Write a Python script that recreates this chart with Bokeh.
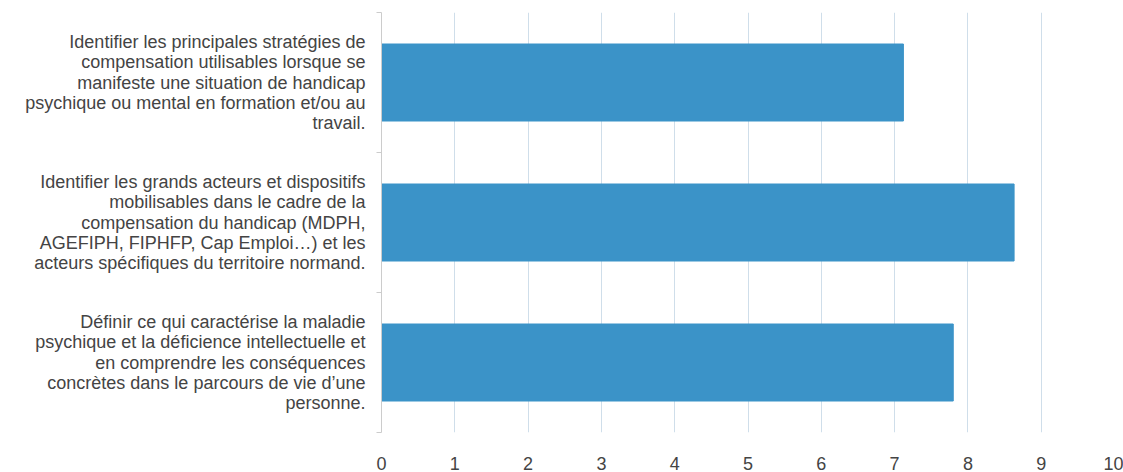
from bokeh.plotting import figure
from bokeh.models import Range1d, FixedTicker, ColumnDataSource
from bokeh.embed import file_html
from bokeh.resources import INLINE

categories = [
    "Identifier les principales stratégies de\ncompensation utilisables lorsque se\nmanifeste une situation de handicap\npsychique ou mental en formation et/ou au\ntravail.",
    "Identifier les grands acteurs et dispositifs\nmobilisables dans le cadre de la\ncompensation du handicap (MDPH,\nAGEFIPH, FIPHFP, Cap Emploi…) et les\nacteurs spécifiques du territoire normand.",
    "Définir ce qui caractérise la maladie\npsychique et la déficience intellectuelle et\nen comprendre les conséquences\nconcrètes dans le parcours de vie d’une\npersonne.",
]
values = [7.12, 8.63, 7.8]
x_ticks = list(range(0, 11))

n = len(categories)
ypos = [n - i - 0.5 for i in range(n)]
src = ColumnDataSource(dict(y=ypos, v=values))

p = figure(width=1123, height=472, output_backend="svg", toolbar_location=None,
           x_range=Range1d(0, 10), y_range=Range1d(0, n),
           min_border_left=381, min_border_right=9, min_border_top=12, min_border_bottom=32)
p.outline_line_color = None
p.background_fill_color = "white"

p.hbar(y="y", right="v", left=0, height=0.55, source=src,
       fill_color="#3B93C8", line_color="#3B93C8")

# x axis
p.xaxis.ticker = FixedTicker(ticks=x_ticks)
p.xaxis.axis_line_color = None
p.xaxis.major_tick_line_color = None
p.xaxis.minor_tick_line_color = None
p.xaxis.major_label_standoff = 18
p.xaxis.major_label_text_font = "Liberation Sans"
p.xaxis.major_label_text_font_size = "18px"
p.xaxis.major_label_text_color = "#444444"

p.xgrid.ticker = FixedTicker(ticks=x_ticks[1:])
p.xgrid.grid_line_color = "#cfdeea"
p.xgrid.grid_line_width = 1
p.ygrid.grid_line_color = None

# y axis
p.yaxis.ticker = FixedTicker(ticks=ypos, minor_ticks=list(range(n + 1)))
p.yaxis.major_label_overrides = {y: c for y, c in zip(ypos, categories)}
p.yaxis.axis_line_color = "#cccccc"
p.yaxis.major_tick_line_color = None
p.yaxis.minor_tick_line_color = "#cccccc"
p.yaxis.minor_tick_out = 5
p.yaxis.minor_tick_in = 0
p.yaxis.major_label_standoff = 10
p.yaxis.major_label_text_font = "Liberation Sans"
p.yaxis.major_label_text_font_size = "18px"
p.yaxis.major_label_text_color = "#444444"
p.yaxis.major_label_text_line_height = 1.02

open("out.html", "w").write(file_html(p, INLINE))
